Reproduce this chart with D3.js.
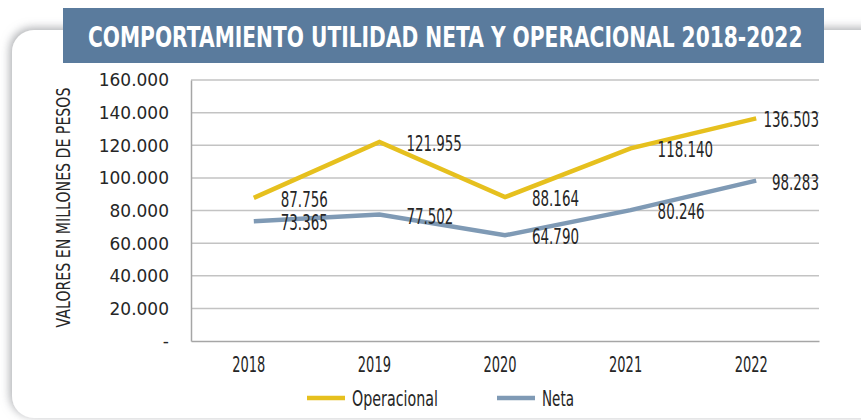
<!DOCTYPE html>
<html>
<head>
<meta charset="utf-8">
<script src="https://cdn.jsdelivr.net/npm/d3@7"></script>
<style>
  body { margin: 0; background: #fff; }
  text { font-family: "DejaVu Sans", sans-serif; fill: #262626; }
</style>
</head>
<body>
<div id="chart"></div>
<script>
// Data
const years = ["2018", "2019", "2020", "2021", "2022"];
const operacional = [87756, 121955, 88164, 118140, 136503];
const neta = [73365, 77502, 64790, 80246, 98283];
const yTicks = [0, 20000, 40000, 60000, 80000, 100000, 120000, 140000, 160000];
const seriesNames = ["Operacional", "Neta"];
const seriesColors = ["#e6c01e", "#7f9ab5"];
const titleText = "COMPORTAMIENTO UTILIDAD NETA Y OPERACIONAL 2018-2022";
const yTitle = "VALORES EN MILLONES DE PESOS";

const W = 861, H = 420;
const margin = { top: 80, right: 42, bottom: 79, left: 191 };
const width = W - margin.left - margin.right;
const height = H - margin.top - margin.bottom;
const SQ = 0.64; // horizontal squeeze to mimic a condensed face

const fmt = v => v === 0 ? "-" : d3.format(",")(v).replace(/,/g, ".");

// squeeze a text horizontally to a target width
function condense(sel, x, y, targetW, extra) {
  const w = sel.node().getComputedTextLength();
  const s = Math.min(1, targetW / w);
  sel.attr("x", 0).attr("y", 0)
    .attr("transform", `translate(${x},${y}) ${extra || ""} scale(${s},1)`);
}
// squeeze around the text's own anchor point
function squeezeAt(sel, s) {
  sel.each(function () {
    const t = d3.select(this);
    const x = +t.attr("x") || 0, y = +t.attr("y") || 0;
    t.attr("transform", `translate(${x},${y}) scale(${s},1) translate(${-x},${-y})`);
  });
}

const svg = d3.select("#chart").append("svg")
  .attr("width", W)
  .attr("height", H);

// card with shadow
const defs = svg.append("defs");
const f = defs.append("filter").attr("id", "shadow")
  .attr("x", "-10%").attr("y", "-10%").attr("width", "120%").attr("height", "120%");
f.append("feDropShadow")
  .attr("dx", -2).attr("dy", -2)
  .attr("stdDeviation", 5)
  .attr("flood-color", "#8f9196")
  .attr("flood-opacity", 0.75);

svg.append("rect")
  .attr("x", 12).attr("y", 30)
  .attr("width", 900).attr("height", 388)
  .attr("rx", 22)
  .attr("fill", "#fff")
  .attr("filter", "url(#shadow)");

// title box
svg.append("rect")
  .attr("x", 63).attr("y", 8)
  .attr("width", 761).attr("height", 55)
  .attr("fill", "#5a7b9d");

const title = svg.append("text")
  .style("font-size", "28px")
  .style("font-weight", "bold")
  .style("fill", "#fff")
  .text(titleText);
condense(title, 88, 47, 715);

const g = svg.append("g")
  .attr("transform", `translate(${margin.left},${margin.top})`);

// scales
const x = d3.scaleBand().domain(years).range([0, width]).padding(0);
const y = d3.scaleLinear().domain([0, 160000]).range([height, 0]);
const cx = d => x(d) + x.bandwidth() / 2;

// gridlines
g.selectAll(".grid")
  .data(yTicks.filter(t => t > 0))
  .enter().append("line")
  .attr("x1", 0).attr("x2", width)
  .attr("y1", d => y(d)).attr("y2", d => y(d))
  .attr("stroke", "#c3c3c3")
  .attr("stroke-width", 1.5);

// y axis
const yAxis = g.append("g")
  .call(d3.axisLeft(y).tickValues(yTicks).tickFormat(fmt).tickSize(0).tickPadding(22));
yAxis.select(".domain").attr("stroke", "#a6a6a6").attr("stroke-width", 1.5);
yAxis.selectAll("text").style("font-size", "17px").attr("dy", "0.35em");

// x axis
const xAxis = g.append("g")
  .attr("transform", `translate(0,${height})`)
  .call(d3.axisBottom(x).tickSize(0).tickPadding(16));
xAxis.select(".domain").attr("stroke", "#a6a6a6").attr("stroke-width", 1.5);
xAxis.selectAll("text")
  .attr("x", -5)
  .style("font-size", "21px")
  .call(squeezeAt, 0.62);

// y title
const yt = svg.append("text")
  .attr("text-anchor", "middle")
  .style("font-size", "20px")
  .text(yTitle);
condense(yt, 70, margin.top + height / 2 - 3, 240, "rotate(-90)");

// lines
const line = d3.line()
  .x((d, i) => cx(years[i]))
  .y(d => y(d));

[operacional, neta].forEach((vals, s) => {
  g.append("path")
    .datum(vals)
    .attr("fill", "none")
    .attr("stroke", seriesColors[s])
    .attr("stroke-width", 4.5)
    .attr("stroke-linejoin", "miter")
    .attr("d", line);

  g.selectAll(".lbl" + s)
    .data(vals)
    .enter().append("text")
    .attr("class", "lbl" + s)
    .attr("y", d => y(d) + 9)
    .style("font-size", "21px")
    .text(d => fmt(d))
    .attr("x", function (d, i) {
      const w = this.getComputedTextLength() * SQ;
      return Math.min(cx(years[i]) + 27, width - w);
    })
    .call(squeezeAt, SQ);
});

// legend
const legend = svg.append("g").attr("transform", "translate(307,398)");
const legX = [0, 190];
const legW = [86, 32];
seriesNames.forEach((name, s) => {
  legend.append("line")
    .attr("x1", legX[s]).attr("x2", legX[s] + 38)
    .attr("y1", 0).attr("y2", 0)
    .attr("stroke", seriesColors[s])
    .attr("stroke-width", 4.5);
  const t = legend.append("text")
    .attr("dy", "0.36em")
    .style("font-size", "21px")
    .text(name);
  condense(t, legX[s] + 45, 0, legW[s]);
});
</script>
</body>
</html>
